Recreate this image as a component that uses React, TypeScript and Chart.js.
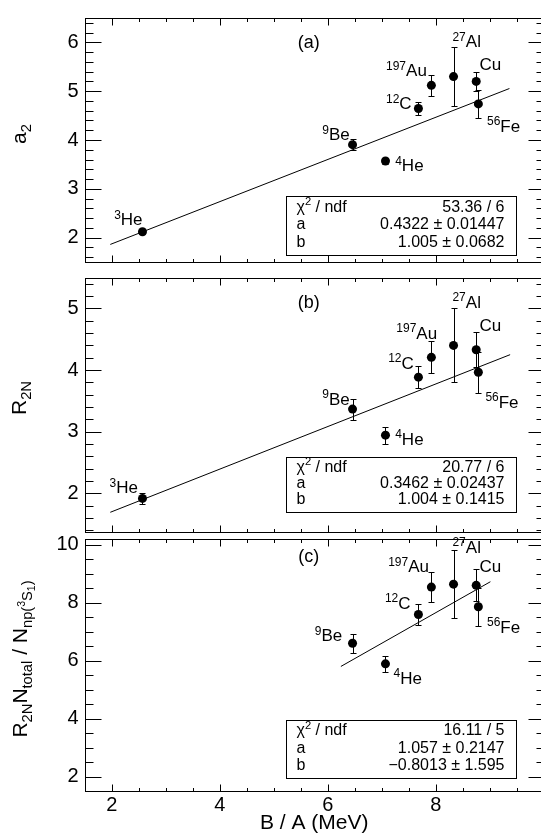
import React, { useEffect, useRef } from 'react';
import { Chart, registerables } from 'chart.js';

Chart.register(...registerables);

const FONT = '"Liberation Sans", Arial, Helvetica, sans-serif';

// ---------------- Data ----------------
const massNumbers = ['3', '4', '9', '12', '27', '56', '', '197'];
const elementSymbols = ['He', 'He', 'Be', 'C', 'Al', 'Fe', 'Cu', 'Au'];
const bindingEnergyPerNucleon = [2.57, 7.07, 6.46, 7.68, 8.33, 8.79, 8.75, 7.92];

const a2Values = [2.12, 3.57, 3.905, 4.645, 5.30, 4.74, 5.20, 5.12];
const a2Errors = [0.04, 0.06, 0.11, 0.135, 0.6, 0.29, 0.2, 0.21];

const r2nValues = [1.915, 2.943, 3.366, 3.885, 4.40, 3.965, 4.33, 4.207];
const r2nErrors = [0.09, 0.14, 0.17, 0.18, 0.6, 0.33, 0.28, 0.26];

const ratioValues = [null, 5.89, 6.60, 7.595, 8.64, 7.86, 8.60, 8.54];
const ratioErrors = [null, 0.27, 0.33, 0.35, 1.18, 0.66, 0.55, 0.52];

const fitAX = [1.974, 9.365];
const fitAY = [1.86, 5.055];
const fitBX = [1.974, 9.378];
const fitBY = [1.69, 4.25];
const fitCX = [6.244, 9.013];
const fitCY = [5.80, 8.725];

const xTickLabels = [2, 4, 6, 8];
const a2TickLabels = [2, 3, 4, 5, 6];
const r2nTickLabels = [2, 3, 4, 5];
const ratioTickLabels = [2, 4, 6, 8, 10];

const statsA = [['53.36 / 6'], ['a', '0.4322 ± 0.01447'], ['b', '1.005 ± 0.0682']];
const statsB = [['20.77 / 6'], ['a', '0.3462 ± 0.02437'], ['b', '1.004 ± 0.1415']];
const statsC = [['16.11 / 5'], ['a', '1.057 ± 0.2147'], ['b', '−0.8013 ± 1.595']];

// label anchors (left end of the label, baseline) in data coordinates
const labelAX = [2.045, 7.25, 5.90, 7.08, 8.31, 8.95, 8.81, 7.08];
const labelAY = [2.255, 3.36, 3.995, 4.63, 5.905, 4.165, 5.43, 5.31];
const labelBX = [1.96, 7.25, 5.90, 7.12, 8.31, 8.92, 8.81, 7.27];
const labelBY = [2.0, 2.79, 3.44, 4.02, 5.015, 3.39, 4.64, 4.51];
const labelCX = [null, 7.22, 5.76, 7.06, 8.31, 8.95, 8.81, 7.12];
const labelCY = [null, 5.2, 6.67, 7.79, 9.73, 6.96, 9.06, 9.06];

// ---------------- Layout / style ----------------
const CANVAS_W = 560;
const AREA_LEFT = 84.7;
const AREA_RIGHT = 543.7;
const X_MIN = 1.5;
const X_MAX = 10;
const X_MINOR = 0.5;
const X_MAJOR = 2;

type Seg = { t: string; k?: 'sub' | 'sup' | 'subsup' | 'subsub' };

interface Panel {
  key: string;
  letter: string;
  letterPos: [number, number];
  values: (number | null)[];
  errors: (number | null)[];
  fitX: number[];
  fitY: number[];
  yMin: number;
  yMax: number;
  yMajor: number;
  yMinor: number;
  yTicks: number[];
  labelX: (number | null)[];
  labelY: (number | null)[];
  box: [number, number, number, number];
  stats: string[][];
  title: Seg[];
  titleBaseX: number;
  titleCenterY: number;
  canvasTop: number;
  canvasHeight: number;
  areaTop: number;
  areaBottom: number;
  showX: boolean;
}

const panels: Panel[] = [
  {
    key: 'a', letter: '(a)', letterPos: [5.65, 5.99],
    values: a2Values, errors: a2Errors, fitX: fitAX, fitY: fitAY,
    yMin: 1.5, yMax: 6.5, yMajor: 1, yMinor: 0.2, yTicks: a2TickLabels,
    labelX: labelAX, labelY: labelAY,
    box: [5.235, 2.855, 9.49, 1.64], stats: statsA,
    title: [{ t: 'a' }, { t: '2', k: 'sub' }], titleBaseX: 25.5, titleCenterY: 134,
    canvasTop: 0, canvasHeight: 280, areaTop: 3, areaBottom: 267, showX: false,
  },
  {
    key: 'b', letter: '(b)', letterPos: [5.65, 5.09],
    values: r2nValues, errors: r2nErrors, fitX: fitBX, fitY: fitBY,
    yMin: 1.37, yMax: 5.495, yMajor: 1, yMinor: 0.2, yTicks: r2nTickLabels,
    labelX: labelBX, labelY: labelBY,
    box: [5.235, 2.583, 9.49, 1.70], stats: statsB,
    title: [{ t: 'R' }, { t: '2N', k: 'sub' }], titleBaseX: 25.5, titleCenterY: 398,
    canvasTop: 260, canvasHeight: 290, areaTop: 267, areaBottom: 539, showX: false,
  },
  {
    key: 'c', letter: '(c)', letterPos: [5.65, 9.59],
    values: ratioValues, errors: ratioErrors, fitX: fitCX, fitY: fitCY,
    yMin: 1.5, yMax: 10.2, yMajor: 2, yMinor: 0.5, yTicks: ratioTickLabels,
    labelX: labelCX, labelY: labelCY,
    box: [5.235, 3.94, 9.49, 1.94], stats: statsC,
    title: [
      { t: 'R' }, { t: '2N', k: 'sub' }, { t: 'N' }, { t: 'total', k: 'sub' }, { t: ' / N' },
      { t: 'np(', k: 'sub' }, { t: '3', k: 'subsup' }, { t: 'S', k: 'sub' }, { t: '1', k: 'subsub' }, { t: ')', k: 'sub' },
    ],
    titleBaseX: 26.7, titleCenterY: 659,
    canvasTop: 520, canvasHeight: 320, areaTop: 539, areaBottom: 791, showX: true,
  },
];

const TICK_FONT = 20;
const TITLE_FONT = 21;
const LABEL_FONT = 17;
const LABEL_SUP_FONT = 12;
const STAT_FONT = 16;

function segStyle(k: Seg['k'], size: number) {
  switch (k) {
    case 'sub': return { s: size * 0.7, dy: size * 0.25 };
    case 'sup': return { s: size * 0.7, dy: -size * 0.42 };
    case 'subsup': return { s: size * 0.5, dy: -size * 0.08 };
    case 'subsub': return { s: size * 0.5, dy: size * 0.4 };
    default: return { s: size, dy: 0 };
  }
}

function richWidth(ctx: CanvasRenderingContext2D, segs: Seg[], size: number) {
  let w = 0;
  for (const sg of segs) {
    const st = segStyle(sg.k, size);
    ctx.font = `${st.s}px ${FONT}`;
    w += ctx.measureText(sg.t).width;
  }
  return w;
}

function drawRich(ctx: CanvasRenderingContext2D, segs: Seg[], x: number, y: number, size: number) {
  let cx = x;
  ctx.textAlign = 'left';
  ctx.textBaseline = 'alphabetic';
  for (const sg of segs) {
    const st = segStyle(sg.k, size);
    ctx.font = `${st.s}px ${FONT}`;
    ctx.fillText(sg.t, cx, y + st.dy);
    cx += ctx.measureText(sg.t).width;
  }
}

const isMultiple = (v: number, step: number) => Math.abs(v / step - Math.round(v / step)) < 1e-6;

function makeDecor(p: Panel) {
  return {
    id: 'decor_' + p.key,
    beforeDatasetsDraw(chart: any) {
      const ctx: CanvasRenderingContext2D = chart.ctx;
      const xs = chart.scales.x;
      const ys = chart.scales.y;
      ctx.save();
      ctx.strokeStyle = '#000';
      ctx.lineWidth = 1;
      p.values.forEach((v, i) => {
        const e = p.errors[i];
        if (v == null || e == null) return;
        const px = Math.round(xs.getPixelForValue(bindingEnergyPerNucleon[i])) + 0.5;
        const y1 = Math.round(ys.getPixelForValue(v + e)) + 0.5;
        const y2 = Math.round(ys.getPixelForValue(v - e)) + 0.5;
        ctx.beginPath();
        ctx.moveTo(px, y1);
        ctx.lineTo(px, y2);
        ctx.moveTo(px - 3, y1);
        ctx.lineTo(px + 3, y1);
        ctx.moveTo(px - 3, y2);
        ctx.lineTo(px + 3, y2);
        ctx.stroke();
      });
      ctx.restore();
    },
    afterDatasetsDraw(chart: any) {
      const ctx: CanvasRenderingContext2D = chart.ctx;
      const xs = chart.scales.x;
      const ys = chart.scales.y;
      ctx.save();
      ctx.fillStyle = '#000';
      // nucleus labels
      p.labelX.forEach((lx, i) => {
        const ly = p.labelY[i];
        if (lx == null || ly == null) return;
        let x = xs.getPixelForValue(lx);
        const y = ys.getPixelForValue(ly);
        ctx.textAlign = 'left';
        ctx.textBaseline = 'alphabetic';
        if (massNumbers[i]) {
          ctx.font = `${LABEL_SUP_FONT}px ${FONT}`;
          ctx.fillText(massNumbers[i], x, y - 6.5);
          x += ctx.measureText(massNumbers[i]).width;
        }
        ctx.font = `${LABEL_FONT}px ${FONT}`;
        ctx.fillText(elementSymbols[i], x, y);
      });
      // panel letter
      ctx.font = `18px ${FONT}`;
      ctx.textAlign = 'center';
      ctx.textBaseline = 'middle';
      ctx.fillText(p.letter, xs.getPixelForValue(p.letterPos[0]), ys.getPixelForValue(p.letterPos[1]));
      // stat box
      const bx1 = Math.round(xs.getPixelForValue(p.box[0])) + 0.5;
      const by1 = Math.round(ys.getPixelForValue(p.box[1])) + 0.5;
      const bx2 = Math.round(xs.getPixelForValue(p.box[2])) + 0.5;
      const by2 = Math.round(ys.getPixelForValue(p.box[3])) + 0.5;
      ctx.fillStyle = '#fff';
      ctx.fillRect(bx1, by1, bx2 - bx1, by2 - by1);
      ctx.strokeStyle = '#000';
      ctx.lineWidth = 1;
      ctx.strokeRect(bx1, by1, bx2 - bx1, by2 - by1);
      ctx.fillStyle = '#000';
      const h = by2 - by1;
      const fr = [0.255, 0.555, 0.85];
      p.stats.forEach((row, i) => {
        const base = by1 + h * fr[i];
        if (i === 0) {
          drawRich(ctx, [{ t: 'χ' }, { t: '2', k: 'sup' }, { t: ' / ndf' }], bx1 + 10, base, STAT_FONT);
          ctx.font = `${STAT_FONT}px ${FONT}`;
          ctx.textAlign = 'right';
          ctx.fillText(row[0], bx2 - 12, base);
        } else {
          ctx.font = `${STAT_FONT}px ${FONT}`;
          ctx.textAlign = 'left';
          ctx.textBaseline = 'alphabetic';
          ctx.fillText(row[0], bx1 + 10, base);
          ctx.textAlign = 'right';
          ctx.fillText(row[1], bx2 - 12, base);
        }
      });
      ctx.restore();
    },
    afterDraw(chart: any) {
      const ctx: CanvasRenderingContext2D = chart.ctx;
      const xs = chart.scales.x;
      const ys = chart.scales.y;
      const { left, right, top, bottom } = chart.chartArea;
      const L = Math.round(left) + 0.5;
      const R = Math.round(right) + 0.5;
      const T = Math.floor(top) + 0.5;
      const B = Math.floor(bottom) + 0.5;
      ctx.save();
      ctx.strokeStyle = '#000';
      ctx.lineWidth = 1;
      ctx.beginPath();
      // x ticks (top and bottom, inward)
      for (let k = Math.ceil(X_MIN / X_MINOR); k * X_MINOR <= X_MAX + 1e-9; k++) {
        const v = k * X_MINOR;
        const px = Math.round(xs.getPixelForValue(v)) + 0.5;
        const len = isMultiple(v, X_MAJOR) ? 7 : 3.5;
        ctx.moveTo(px, B);
        ctx.lineTo(px, B - len);
        ctx.moveTo(px, T);
        ctx.lineTo(px, T + len);
      }
      // y ticks (left and right, inward)
      for (let k = Math.ceil(p.yMin / p.yMinor - 1e-9); k * p.yMinor <= p.yMax + 1e-9; k++) {
        const v = k * p.yMinor;
        const py = Math.round(ys.getPixelForValue(v)) + 0.5;
        const len = isMultiple(v, p.yMajor) ? 16 : 8;
        ctx.moveTo(L, py);
        ctx.lineTo(L + len, py);
        ctx.moveTo(R, py);
        ctx.lineTo(R - len, py);
      }
      ctx.stroke();
      ctx.strokeRect(L, T, R - L, B - T);
      // y title
      ctx.fillStyle = '#000';
      const w = richWidth(ctx, p.title, TITLE_FONT);
      ctx.translate(p.titleBaseX, p.titleCenterY - p.canvasTop);
      ctx.rotate(-Math.PI / 2);
      drawRich(ctx, p.title, -w / 2, 0, TITLE_FONT);
      ctx.restore();
    },
  };
}

function PanelChart({ p }: { p: Panel }) {
  const ref = useRef<HTMLCanvasElement>(null);
  useEffect(() => {
    const canvas = ref.current;
    if (!canvas) return;
    const points = bindingEnergyPerNucleon
      .map((x, i) => ({ x, y: p.values[i] }))
      .filter((d) => d.y != null);
    const fit = p.fitX.map((x, i) => ({ x, y: p.fitY[i] }));
    const padBottom = p.showX ? 0 : p.canvasTop + p.canvasHeight - p.areaBottom;
    const chart = new Chart(canvas, {
      type: 'scatter',
      data: {
        datasets: [
          {
            data: points as any,
            pointRadius: 4.5,
            pointBackgroundColor: '#000',
            pointBorderColor: '#000',
            pointBorderWidth: 0,
            showLine: false,
          },
          {
            data: fit,
            showLine: true,
            borderColor: '#000',
            borderWidth: 1,
            pointRadius: 0,
            fill: false,
            tension: 0,
          },
        ],
      },
      options: {
        responsive: false,
        animation: false,
        devicePixelRatio: 1,
        events: [],
        layout: {
          padding: {
            top: p.areaTop - p.canvasTop,
            bottom: padBottom,
            left: 0,
            right: CANVAS_W - AREA_RIGHT,
          },
        },
        plugins: { legend: { display: false }, tooltip: { enabled: false } },
        scales: {
          x: {
            type: 'linear',
            min: X_MIN,
            max: X_MAX,
            display: p.showX,
            afterBuildTicks: (s: any) => {
              s.ticks = xTickLabels.map((v) => ({ value: v }));
            },
            afterFit: (s: any) => {
              if (p.showX) s.height = p.canvasTop + p.canvasHeight - p.areaBottom;
            },
            grid: { display: false, drawTicks: false },
            border: { display: false },
            ticks: {
              font: { family: FONT, size: TICK_FONT },
              color: '#000',
              padding: 2,
              maxRotation: 0,
              autoSkip: false,
              callback: (v: any) => String(v),
            },
            title: {
              display: true,
              text: 'B / A (MeV)',
              font: { family: FONT, size: TITLE_FONT },
              color: '#000',
              padding: { top: 0, bottom: 4.5 },
            },
          },
          y: {
            type: 'linear',
            min: p.yMin,
            max: p.yMax,
            afterBuildTicks: (s: any) => {
              s.ticks = p.yTicks.map((v) => ({ value: v }));
            },
            afterFit: (s: any) => {
              s.width = AREA_LEFT;
            },
            grid: { display: false, drawTicks: false },
            border: { display: false },
            ticks: {
              font: { family: FONT, size: TICK_FONT },
              color: '#000',
              padding: 6,
              autoSkip: false,
              callback: (v: any) => String(v),
            },
          },
        },
      },
      plugins: [makeDecor(p)],
    } as any);
    return () => chart.destroy();
  }, [p]);
  return (
    <canvas
      ref={ref}
      width={CANVAS_W}
      height={p.canvasHeight}
      style={{ position: 'absolute', left: 0, top: p.canvasTop, width: CANVAS_W, height: p.canvasHeight }}
    />
  );
}

export default function App() {
  return (
    <div
      style={{
        position: 'absolute',
        left: 0,
        top: 0,
        width: 541,
        height: 840,
        overflow: 'hidden',
        background: '#fff',
      }}
    >
      {panels.map((p) => (
        <PanelChart key={p.key} p={p} />
      ))}
    </div>
  );
}
